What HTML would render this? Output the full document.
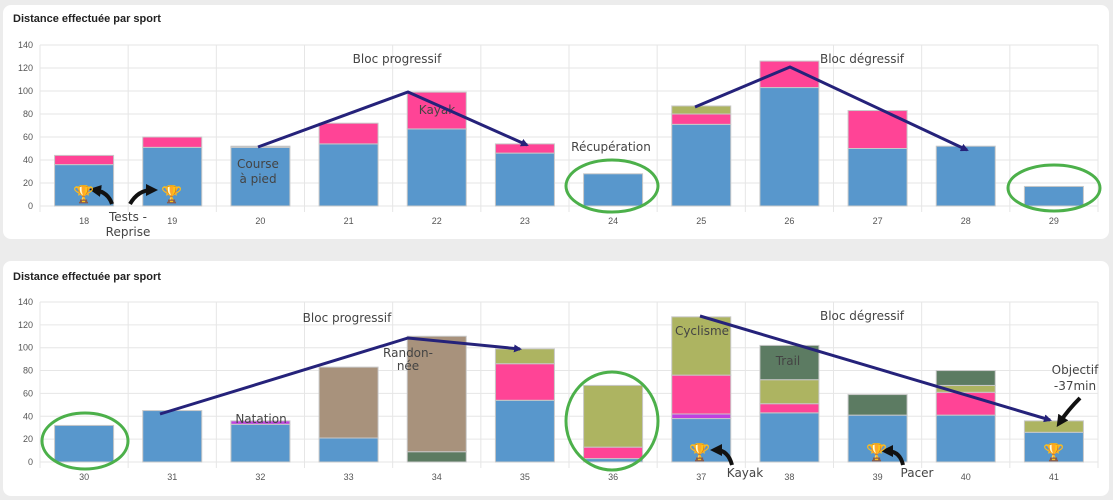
<!DOCTYPE html><html><head><meta charset="utf-8"><style>
body{margin:0;background:#ececec;width:1113px;height:500px;overflow:hidden;font-family:"Liberation Sans",sans-serif}
svg{position:absolute;left:0;top:0}
</style></head><body>
<svg id="s" width="1113" height="500" xmlns="http://www.w3.org/2000/svg">
<defs><marker id="ar" markerWidth="8" markerHeight="8" refX="6" refY="4" orient="auto" markerUnits="userSpaceOnUse"><path d="M0,0 L8,4 L0,8 Z" fill="#25227a"/></marker>
<marker id="bk" markerWidth="12" markerHeight="12" refX="6" refY="6" orient="auto" markerUnits="userSpaceOnUse"><path d="M0,0 L12,6 L0,12 Z" fill="#111"/></marker></defs>
<rect x="3" y="5" width="1106" height="234" rx="8" fill="#fff"/>
<rect x="3" y="261" width="1106" height="235" rx="8" fill="#fff"/>
<text x="13" y="22" font-size="11" font-weight="bold" fill="#222">Distance effectuée par sport</text>
<text x="13" y="280" font-size="11" font-weight="bold" fill="#222">Distance effectuée par sport</text>
<g id="g"></g>
<g font-family="'DejaVu Sans',sans-serif" font-size="12" fill="#444" text-anchor="middle">
<text x="397" y="63">Bloc progressif</text><text x="437" y="114">Kayak</text>
<text x="258" y="168">Course</text><text x="258" y="183">à pied</text>
<text x="611" y="151">Récupération</text><text x="862" y="63">Bloc dégressif</text>
<text x="128" y="221">Tests -</text><text x="128" y="236">Reprise</text>
<text x="347" y="322">Bloc progressif</text><text x="261" y="423">Natation</text>
<text x="408" y="357">Randon-</text><text x="408" y="370">née</text>
<text x="702" y="335">Cyclisme</text><text x="788" y="365">Trail</text>
<text x="862" y="320">Bloc dégressif</text><text x="1075" y="374">Objectif</text><text x="1075" y="390">-37min</text>
<text x="745" y="477">Kayak</text><text x="917" y="477">Pacer</text>
</g>
<g stroke="#25227a" stroke-width="3" fill="none" marker-end="url(#ar)">
<polyline points="258,147 408,92 527,145"/><polyline points="695,107 790,67 967,150"/>
<polyline points="160,414 408,338 520,349"/><line x1="700" y1="316" x2="1050" y2="420"/>
</g>
<g stroke="#4cb04a" stroke-width="3" fill="none">
<ellipse cx="612" cy="186" rx="46" ry="26"/><ellipse cx="1054" cy="188" rx="46" ry="23"/>
<ellipse cx="85" cy="441" rx="43" ry="28"/><ellipse cx="612" cy="421" rx="46" ry="49"/>
</g>
<g stroke="#111" stroke-width="4" fill="none" marker-end="url(#bk)">
<path d="M112,204 Q108,192 95,190"/><path d="M130,204 Q138,190 152,190"/>
<path d="M732,465 Q728,450 716,450"/><path d="M903,465 Q900,451 887,451"/>
<path d="M1080,398 Q1068,410 1060,422"/>
</g>
<g font-size="17" text-anchor="middle">
<text x="84" y="200">🏆</text><text x="172" y="200">🏆</text>
<text x="700" y="458">🏆</text><text x="877" y="458">🏆</text><text x="1054" y="458">🏆</text>
</g>
</svg>
<script>
var g=document.getElementById('g'),ns='http://www.w3.org/2000/svg';
function el(t,a,txt){var e=document.createElementNS(ns,t);for(var k in a)e.setAttribute(k,a[k]);if(txt!=null)e.textContent=txt;g.appendChild(e);return e;}
var C={b:'#5897cc',p:'#ff4496',o:'#adb461',t:'#a8927c',d:'#5c7b62',v:'#c040e0',g:'#aaa'};
function chart(y0,sc,first,data){
 var L=40,R=1098,w=(R-L)/12;
 for(var i=0;i<=7;i++){var y=y0-i*20*sc;el('line',{x1:L,x2:R,y1:y,y2:y,stroke:'#e6e6e6'});el('text',{x:33,y:y+3,'font-size':9,'text-anchor':'end',fill:'#555'},i*20);}
 for(var i=0;i<=12;i++){var x=L+i*w;el('line',{x1:x,x2:x,y1:y0-140*sc,y2:y0+6,stroke:'#e6e6e6'});}
 data.forEach(function(d,i){var cx=L+w*(i+.5),prev=0;
  d.forEach(function(s){var c=s[0],v=s[1];el('rect',{x:cx-29.5,width:59,y:y0-v*sc,height:(v-prev)*sc,fill:C[c],stroke:'#c8c8c8','stroke-width':1});prev=v;});
  el('text',{x:cx,y:y0+18,'font-size':9,'text-anchor':'middle',fill:'#555'},first+i);});
}
chart(206,1.15,18,[[['b',36],['p',44]],[['b',51],['p',60]],[['b',51],['g',52]],[['b',54],['p',72]],[['b',67],['p',99]],[['b',46],['p',54]],[['b',28]],[['b',71],['p',80],['o',87]],[['b',103],['p',126]],[['b',50],['p',83]],[['b',52]],[['b',17]]]);
chart(462,1.143,30,[[['b',32]],[['b',45]],[['b',33],['v',36]],[['b',21],['t',83]],[['d',9],['t',110]],[['b',54],['p',86],['o',99]],[['b',3],['p',13],['o',67]],[['b',38],['v',42],['p',76],['o',127]],[['b',43],['p',51],['o',72],['d',102]],[['b',41],['d',59]],[['b',41],['p',61],['o',67],['d',80]],[['b',26],['o',36]]]);
</script>
</body></html>
